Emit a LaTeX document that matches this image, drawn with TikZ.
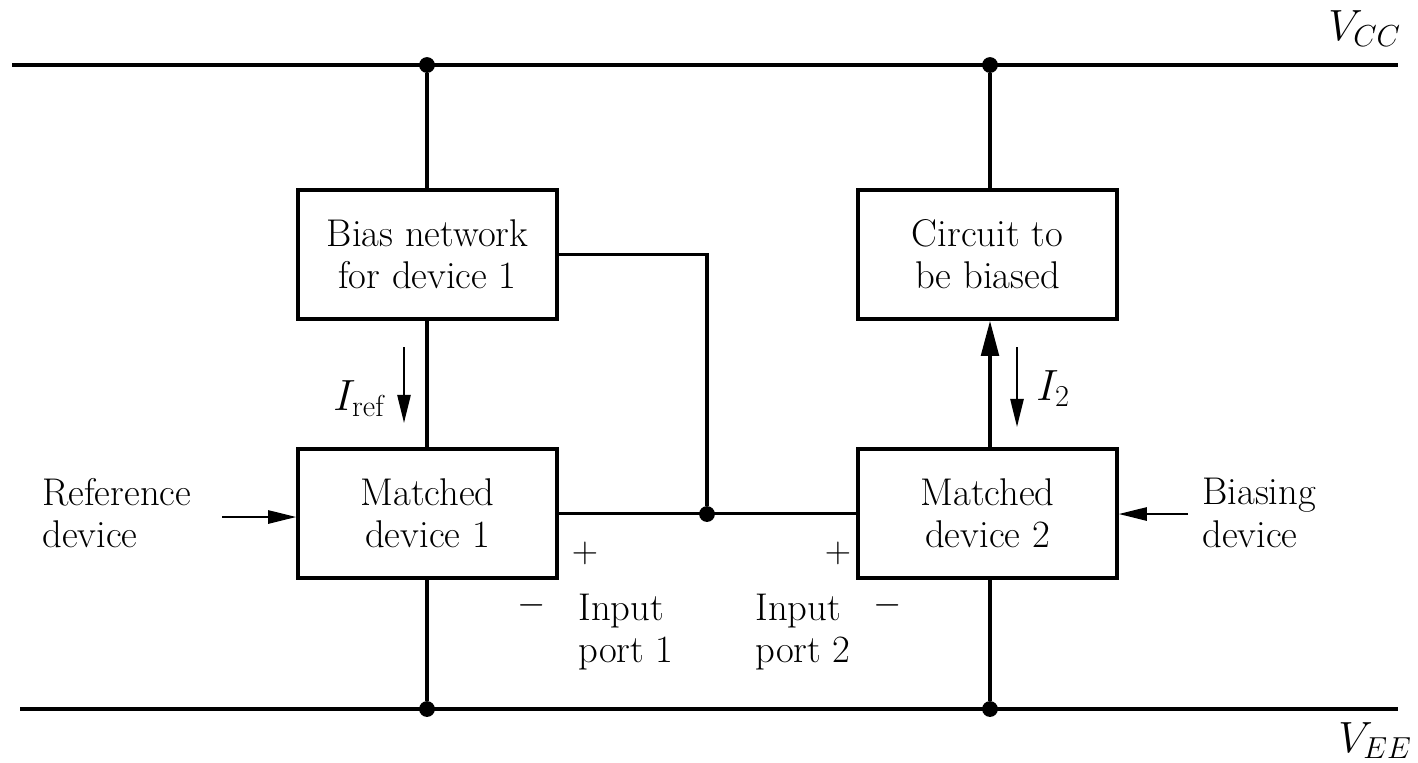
\documentclass[tikz,border=0pt]{standalone}
\usetikzlibrary{arrows.meta}
\begin{document}
\begin{tikzpicture}[x=0.02cm,y=-0.02cm,
  font=\fontsize{22}{24}\selectfont,
  box/.style={draw, line width=2pt, align=center, inner sep=0pt,
    minimum width=5.18cm, minimum height=2.58cm},
  wire/.style={line width=2pt},
  rail/.style={line width=2.6pt},
  dot/.style={circle, fill, inner sep=0pt, minimum size=9pt},
  sarrow/.style={line width=1.2pt, -{Triangle[length=16pt,width=7.5pt]}},
  barrow/.style={wire, -{Triangle[length=20pt,width=10pt]}},
  mlbl/.style={anchor=base west, inner sep=0pt, font=\fontsize{24}{26}\selectfont},
  lbl/.style={align=left, inner sep=0pt}]
\useasboundingbox (0,0) rectangle (1418,762);

% boxes
\node[box] (bias) at (427.5,254.5) {Bias network\\for device 1};
\node[box] (circ) at (987.5,254.5) {Circuit to\\be biased};
\node[box] (m1) at (427.5,513.5) {Matched\\device 1};
\node[box] (m2) at (987.5,513.5) {Matched\\device 2};

% rails
\coordinate (vccL) at (12,65);
\coordinate (vccR) at (1398,65);
\coordinate (veeL) at (20,709);
\coordinate (veeR) at (1398,709);
\draw[rail] (vccL) -- (vccR);
\draw[rail] (veeL) -- (veeR);
\node[mlbl] (vcc) at (1328,40) {$V_{CC}$};
\node[mlbl] (vee) at (1338,752) {$V_{EE}$};

% dots
\node[dot] (d1) at (427,65) {};
\node[dot] (d2) at (990,65) {};
\node[dot] (d3) at (427,709) {};
\node[dot] (d4) at (990,709) {};
\node[dot] (j) at (707,514) {};

% verticals
\draw[wire] (d1) -- (d1 |- bias.north);
\draw[wire] (d1 |- bias.south) -- (d1 |- m1.north);
\draw[wire] (d1 |- m1.south) -- (d3);
\draw[wire] (d2) -- (d2 |- circ.north);
\draw[barrow] (d2 |- m2.north) -- (d2 |- circ.south);
\draw[wire] (d2 |- m2.south) -- (d4);

% junction
\draw[wire] (m1.east) -- (m2.west);
\draw[wire] (bias.east) -- (bias.east -| j) -- (j);

% current arrows
\coordinate (ir1) at (404,347);
\coordinate (ir2) at (404,423);
\draw[sarrow] (ir1) -- (ir2);
\node[mlbl] (iref) at (333,410) {$I_{\mathrm{ref}}$};
\coordinate (i21) at (1017,347);
\coordinate (i22) at (1017,427);
\draw[sarrow] (i21) -- (i22);
\node[mlbl] (i2) at (1036,400) {$I_2$};

% side labels
\node[lbl, anchor=west] (refdev) at (42,513) {Reference\\device};
\coordinate (ra) at (222,517);
\draw[sarrow] (ra) -- (ra -| m1.west);
\node[lbl, anchor=west] (biasdev) at (1202,513) {Biasing\\device};
\coordinate (ba) at (1188,514);
\draw[sarrow] (ba) -- (ba -| m2.east);

% ports
\node[inner sep=0pt] (p1) at (585,553) {$+$};
\node[inner sep=0pt] (n1) at (532,605) {$-$};
\node[inner sep=0pt] (p2) at (838,553) {$+$};
\node[inner sep=0pt] (n2) at (888,605) {$-$};
\node[lbl, anchor=west] (in1) at (578,632) {Input\\port 1};
\node[lbl, anchor=west] (in2) at (755,632) {Input\\port 2};
\end{tikzpicture}
\end{document}
